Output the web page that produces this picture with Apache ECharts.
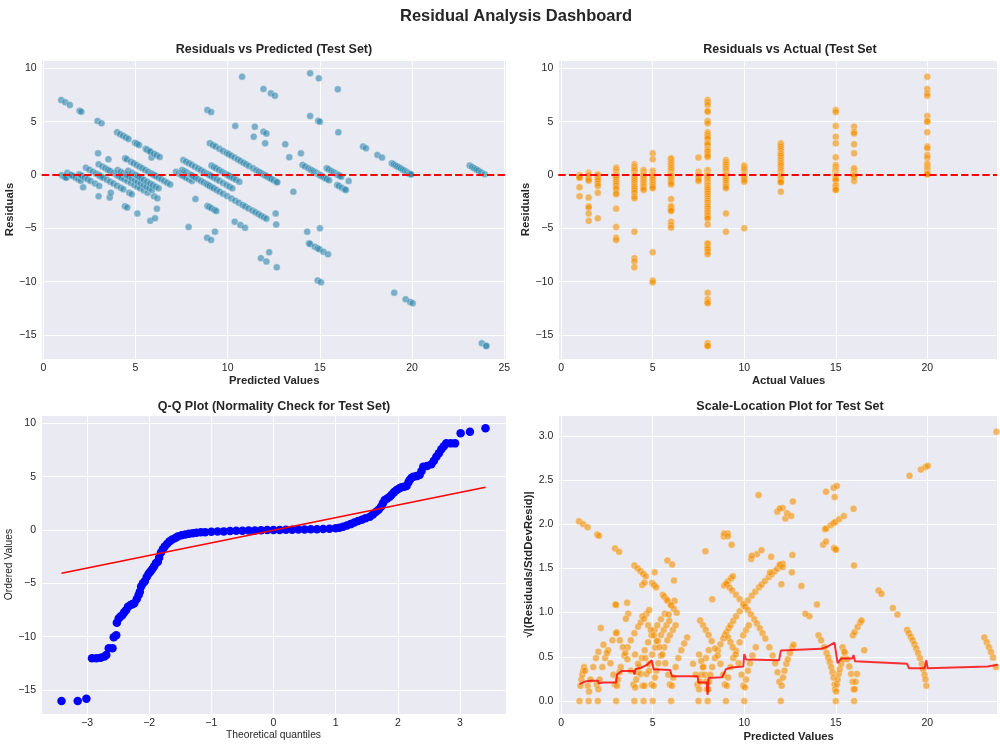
<!doctype html>
<html>
<head>
<meta charset="UTF-8">
<title>Residual Analysis Dashboard</title>
<script src="https://cdn.jsdelivr.net/npm/echarts@6/dist/echarts.min.js"></script>
<style>
	html, body { margin: 0; padding: 0; background: #fff; }
	#main { width: 1000px; height: 750px; }
</style>
</head>
<body>
<div id="main"></div>
<script>
// actual target values (x of the "Residuals vs Actual" panel)
var actualLevels = [1, 1.5, 2, 3, 4, 4.5, 5, 6, 7.5, 8, 9, 10, 12, 15, 16, 20, 24];

// residuals (actual - predicted) for every actual level, same order as actualLevels
var residualGroups = [
	[0, -0.05, -0.1, -0.15, -0.2, -0.25, -1.16, -2.0],
	[0.2, 0.05, 0, -0.02, -0.1, -0.25, -0.4, -0.53, -2.1, -2.93, -3.05, -3.6, -4.3],
	[0.06, 0, -0.03, -0.1, -0.25, -0.4, -0.56, -0.8, -1.03, -1.66, -4.06],
	[0.69, 0.5, 0.31, 0.15, 0.06, 0, -0.05, -0.1, -0.18, -0.25, -0.45, -0.63, -0.8, -1.0, -1.2, -1.34, -1.66, -1.8, -3.16, -4.88, -5.88, -6.1],
	[1.0, 0.8, 0.63, 0.5, 0.38, 0.2, 0.06, 0, -0.04, -0.1, -0.18, -0.25, -0.4, -0.56, -0.75, -0.94, -1.1, -1.25, -1.45, -1.66, -2.0, -2.19, -5.31, -7.8, -8.1, -8.66],
	[0.47, 0.3, 0.16, 0.05, 0, -0.05, -0.16, -0.3, -0.47, -0.62, -0.78, -0.95, -1.1, -1.25, -1.4],
	[2.03, 1.47, 0.4, 0.2, 0.06, 0, -0.05, -0.12, -0.2, -0.31, -0.45, -0.63, -0.8, -0.94, -1.1, -1.25, -7.25, -9.88, -10.06],
	[1.56, 1.47, 1.25, 1.1, 0.94, 0.78, 0.63, 0.47, 0.31, 0.15, 0.06, 0, -0.05, -0.12, -0.25, -0.4, -0.56, -0.72, -0.88, -2.25, -2.9, -3.0, -3.12, -3.28, -3.38, -4.38, -4.69, -4.94],
	[1.63, 0.3, 0.15, 0.06, 0, -0.03, -0.08, -0.15, -0.25, -0.4, -0.56],
	[7.03, 6.81, 6.56, 6.03, 5.94, 5.06, 4.84, 4.0, 3.83, 3.67, 3.52, 3.38, 3.03, 2.92, 2.81, 2.45, 2.37, 2.25, 2.19, 2.0, 1.85, 1.69,
		0.47, 0.35, 0.25, 0.15, 0.08, 0.03, 0, -0.03, -0.08, -0.15, -0.25, -0.4, -0.56, -0.7, -0.85, -0.94, -1.03, -1.15, -1.25, -1.4,
		-1.56, -1.75, -1.97, -2.2, -2.41, -2.6, -2.81, -2.95, -3.13, -3.34, -3.5, -3.66, -3.81, -3.97, -4.1, -4.63,
		-6.41, -6.47, -6.72, -6.87, -6.97, -7.19, -7.44, -11.03, -11.65, -11.9, -12.03, -15.78, -16.0, -16.03],
	[1.41, 1.25, 1.1, 0.95, 0.78, 0.6, 0.45, 0.3, 0.15, 0.06, 0, -0.05, -0.12, -0.25, -0.4, -0.55, -0.75, -0.94, -1.1, -1.25, -3.6, -5.31],
	[0.88, 0.75, 0.63, 0.47, 0.31, 0.15, 0.05, 0, -0.04, -0.1, -0.2, -0.31, -0.45, -0.63, -5.0],
	[2.97, 2.8, 2.66, 2.45, 2.25, 2.05, 1.94, 1.8, 1.63, 1.45, 1.31, 1.15, 1.0, 0.85, 0.63, 0.45, 0.31, 0.18, 0.08, 0, -0.05, -0.12, -0.2, -0.3, -0.38, -0.5, -0.63, -0.69, -1.56],
	[6.1, 5.9, 4.59, 3.59, 2.97, 1.66, 0.94, 0.8, 0.63, 0.5, 0.41, 0.33, 0.25, 0.18, 0.12, 0.06, 0.03, 0, -0.02, -0.06, -0.1, -0.16, -0.22, -0.3, -0.38, -0.5, -0.94, -1.03, -1.19, -1.34, -1.41],
	[4.53, 4.06, 3.9, 2.88, 2.03, 0.63, 0.53, 0.38, 0.26, 0.16, 0.08, 0.03, 0, -0.03, -0.08, -0.16, -0.56],
	[9.22, 8.06, 7.66, 7.44, 5.53, 5.09, 5.0, 4.0, 2.66, 2.5, 1.88, 1.63, 1.1, 1.0, 0.9, 0.8, 0.7, 0.6, 0.5, 0.4, 0.3, 0.22, 0.15, 0.1, 0.05],
	[9.53, 9.06, 8.03, 0.88, 0.75, 0.63, 0.52, 0.41, 0.25, 0.06]
];
var residStd = 1.7;

// Q-Q plot points
var qqTheoretical = [-3.41, -3.15, -3.01, -2.92, -2.85, -2.78, -2.72, -2.69, -2.65, -2.59, -2.57, -2.53, -2.52,
	-2.49, -2.46, -2.43, -2.40, -2.37, -2.34, -2.30, -2.27, -2.24, -2.20, -2.17, -2.15, -2.13, -2.10, -2.07, -2.04, -2.01,
	-1.98, -1.95, -1.92, -1.89, -1.86, -1.84, -1.81, -1.78, -1.75, -1.71, -1.67, -1.63, -1.58, -1.54, -1.48, -1.42, -1.36,
	-1.30, -1.24, -1.17, -1.10, -1.00, -0.90, -0.80, -0.70, -0.60, -0.50, -0.40, -0.30, -0.20, -0.10, 0.00, 0.10, 0.20,
	0.30, 0.40, 0.50, 0.60, 0.70, 0.80, 0.90, 1.00, 1.06, 1.12, 1.18, 1.24, 1.30, 1.36, 1.42, 1.48, 1.55, 1.60, 1.65, 1.69,
	1.73, 1.76, 1.79, 1.83, 1.87, 1.90, 1.94, 1.98, 2.02, 2.06, 2.10, 2.14, 2.17, 2.19, 2.22, 2.25, 2.30, 2.35, 2.38, 2.41,
	2.47, 2.54, 2.58, 2.62, 2.66, 2.70, 2.74, 2.78, 2.85, 2.92, 3.01, 3.16, 3.41];
var qqOrdered = [-16.03, -16.03, -15.81, -12.03, -12.03, -11.97, -11.85, -11.72, -11.09, -11.09, -10.06, -9.87, -8.69,
	-8.30, -8.12, -7.97, -7.70, -7.50, -7.20, -7.03, -6.95, -6.87, -6.47, -6.10, -5.80, -5.30, -5.00, -4.80, -4.40, -4.10,
	-3.90, -3.65, -3.40, -3.10, -2.97, -2.60, -2.10, -1.80, -1.55, -1.30, -1.05, -0.90, -0.75, -0.62, -0.50, -0.42, -0.35,
	-0.30, -0.26, -0.22, -0.20, -0.17, -0.15, -0.13, -0.10, -0.08, -0.07, -0.05, -0.04, -0.02, -0.01, 0.00, 0.01, 0.02,
	0.03, 0.04, 0.05, 0.06, 0.07, 0.09, 0.12, 0.16, 0.22, 0.31, 0.42, 0.55, 0.70, 0.85, 0.97, 1.10, 1.25, 1.45, 1.72, 1.90,
	2.19, 2.50, 2.81, 2.95, 3.12, 3.30, 3.55, 3.75, 3.90, 4.00, 4.05, 4.12, 4.45, 4.69, 4.90, 5.00, 5.05, 5.16, 5.50, 5.94,
	6.00, 6.16, 6.50, 6.87, 7.20, 7.56, 7.85, 8.12, 8.12, 8.12, 9.06, 9.22, 9.53];
var qqLineX = [-3.41, 3.41];
var qqLineY = [-4.06, 4.0];

// red trend line of the scale-location panel
var scaleLineX = [1.0, 1.3, 1.6, 2.0, 2.05, 2.3, 3.0, 3.05, 3.3, 3.95, 4.0, 4.05, 4.4, 4.7, 4.95, 5.0, 5.05, 5.95, 6.05, 7.45,
	7.5, 7.95, 8.0, 8.05, 8.8, 9.0, 9.3, 9.95, 10.0, 10.1, 11.9, 12.0, 14.2, 14.5, 14.93, 15.1, 15.3, 15.9, 15.97, 16.05,
	18.9, 19.0, 19.85, 19.95, 20.02, 20.1, 23.3, 23.35, 23.85];
var scaleLineY = [0.19, 0.22, 0.23, 0.23, 0.20, 0.21, 0.21, 0.30, 0.34, 0.34, 0.30, 0.36, 0.38, 0.41, 0.46, 0.48, 0.36, 0.35, 0.28, 0.28,
	0.21, 0.21, 0.07, 0.26, 0.27, 0.36, 0.38, 0.39, 0.53, 0.47, 0.46, 0.57, 0.59, 0.61, 0.66, 0.43, 0.48, 0.48, 0.52, 0.45,
	0.42, 0.37, 0.37, 0.46, 0.37, 0.39, 0.39, 0.37, 0.41];

var FONT = '"Liberation Sans", Arial, "DejaVu Sans", sans-serif';
var TXT = '#262626';

var predResid = [], actResid = [], scaleLoc = [];
actualLevels.forEach(function(a, i) {
	residualGroups[i].forEach(function(r) {
		var p = Math.round((a - r) * 1000) / 1000;
		predResid.push([p, r]);
		actResid.push([a, r]);
		scaleLoc.push([p, Math.sqrt(Math.abs(r) / residStd)]);
	});
});
var qqData = qqTheoretical.map(function(q, i) { return [q, qqOrdered[i]]; });
var qqLine = qqLineX.map(function(q, i) { return [q, qqLineY[i]]; });
var scaleLine = scaleLineX.map(function(x, i) { return [x, scaleLineY[i]]; });

function tickFmt(step, digits) {
	return function(v) {
		var k = v / step;
		if (Math.abs(k - Math.round(k)) > 1e-6) return '';
		return (Math.round(k) * step).toFixed(digits).replace('-', '\u2212');
	};
}

function axis(gridIndex, min, max, step, digits, splitNumber, name, nameGap, bold, isY, pad) {
	return {
		type: 'value',
		gridIndex: gridIndex,
		min: min,
		max: max,
		splitNumber: splitNumber,
		name: name,
		nameLocation: 'middle',
		nameGap: nameGap,
		nameTextStyle: {
			fontFamily: FONT,
			fontSize: bold ? 11.3 : 10.3,
			fontWeight: bold ? 'bold' : 'normal',
			color: TXT,
			padding: pad || 0
		},
		axisLine: { show: false },
		axisTick: { show: false },
		axisLabel: {
			fontFamily: FONT,
			fontSize: 10.5,
			color: TXT,
			margin: isY ? 5 : 4,
			formatter: tickFmt(step, digits)
		},
		splitLine: { show: true, lineStyle: { color: '#ffffff', width: 1 } }
	};
}

function scatterStyle(color) {
	return { color: color, opacity: 0.6, borderColor: '#ffffff', borderWidth: 0.5 };
}

var zeroLine = {
	silent: true,
	symbol: ['none', 'none'],
	label: { show: false },
	lineStyle: { color: '#ff0000', type: [7.4, 3.2], width: 2 },
	data: [{ yAxis: 0 }],
	animation: false
};

function subTitle(text, x, top) {
	return {
		text: text, left: x, top: top, textAlign: 'center', padding: 0,
		textStyle: { fontFamily: FONT, fontSize: 12.5, fontWeight: 'bold', color: TXT }
	};
}

var option = {
	animation: false,
	backgroundColor: '#ffffff',
	title: [
		{
			text: 'Residual Analysis Dashboard', left: 516, top: 8, textAlign: 'center', padding: 0,
			textStyle: { fontFamily: FONT, fontSize: 16.5, fontWeight: 'bold', color: TXT }
		},
		subTitle('Residuals vs Predicted (Test Set)', 274, 43),
		subTitle('Residuals vs Actual (Test Set', 790, 43),
		subTitle('Q-Q Plot (Normality Check for Test Set)', 274, 400),
		subTitle('Scale-Location Plot for Test Set', 790, 400)
	],
	grid: [
		{ left: 41.7, top: 60, width: 465, height: 299, show: true, backgroundColor: '#EAEAF2', borderWidth: 0 },
		{ left: 558.3, top: 60, width: 441.7, height: 299, show: true, backgroundColor: '#EAEAF2', borderWidth: 0 },
		{ left: 41, top: 415, width: 465, height: 299, show: true, backgroundColor: '#EAEAF2', borderWidth: 0 },
		{ left: 558.3, top: 415, width: 441.7, height: 299, show: true, backgroundColor: '#EAEAF2', borderWidth: 0 }
	],
	xAxis: [
		axis(0, -0.087, 25.13, 5, 0, 5, 'Predicted Values', 16, true, false),
		axis(1, -0.16, 23.81, 5, 0, 5, 'Actual Values', 16, true, false, [0, 0, 0, 22]),
		axis(2, -3.74, 3.74, 1, 0, 7, 'Theoretical quantiles', 16, false, false),
		axis(3, -0.16, 23.81, 5, 0, 5, 'Predicted Values', 17, true, false, [0, 0, 0, 22])
	],
	yAxis: [
		axis(0, -17.25, 10.78, 5, 0, 5, 'Residuals', 26, true, true),
		axis(1, -17.25, 10.78, 5, 0, 5, 'Residuals', 25, true, true),
		axis(2, -17.25, 10.78, 5, 0, 5, 'Ordered Values', 24, false, true),
		axis(3, -0.147, 3.235, 0.5, 1, 6, '\u221A|(Residuals/StdDevResid)|', 21, true, true)
	],
	series: [
		{
			type: 'scatter', xAxisIndex: 0, yAxisIndex: 0, data: predResid,
			symbolSize: 7, itemStyle: scatterStyle('#2E86AB'), markLine: zeroLine
		},
		{
			type: 'scatter', xAxisIndex: 1, yAxisIndex: 1, data: actResid,
			symbolSize: 7, itemStyle: scatterStyle('#F18F01'), markLine: zeroLine
		},
		{
			type: 'scatter', xAxisIndex: 2, yAxisIndex: 2, data: qqData,
			symbolSize: 8.5, itemStyle: { color: '#0000FF', opacity: 1 }
		},
		{
			type: 'line', xAxisIndex: 2, yAxisIndex: 2, data: qqLine,
			symbol: 'none', lineStyle: { color: '#ff0000', width: 1.5 }, z: 3
		},
		{
			type: 'scatter', xAxisIndex: 3, yAxisIndex: 3, data: scaleLoc,
			symbolSize: 7, itemStyle: scatterStyle('#F18F01')
		},
		{
			type: 'line', xAxisIndex: 3, yAxisIndex: 3, data: scaleLine,
			symbol: 'none', lineStyle: { color: 'rgba(255,0,0,0.8)', width: 2 }, z: 3
		}
	]
};

var chart = echarts.init(document.getElementById('main'));
chart.setOption(option);
</script>
</body>
</html>
